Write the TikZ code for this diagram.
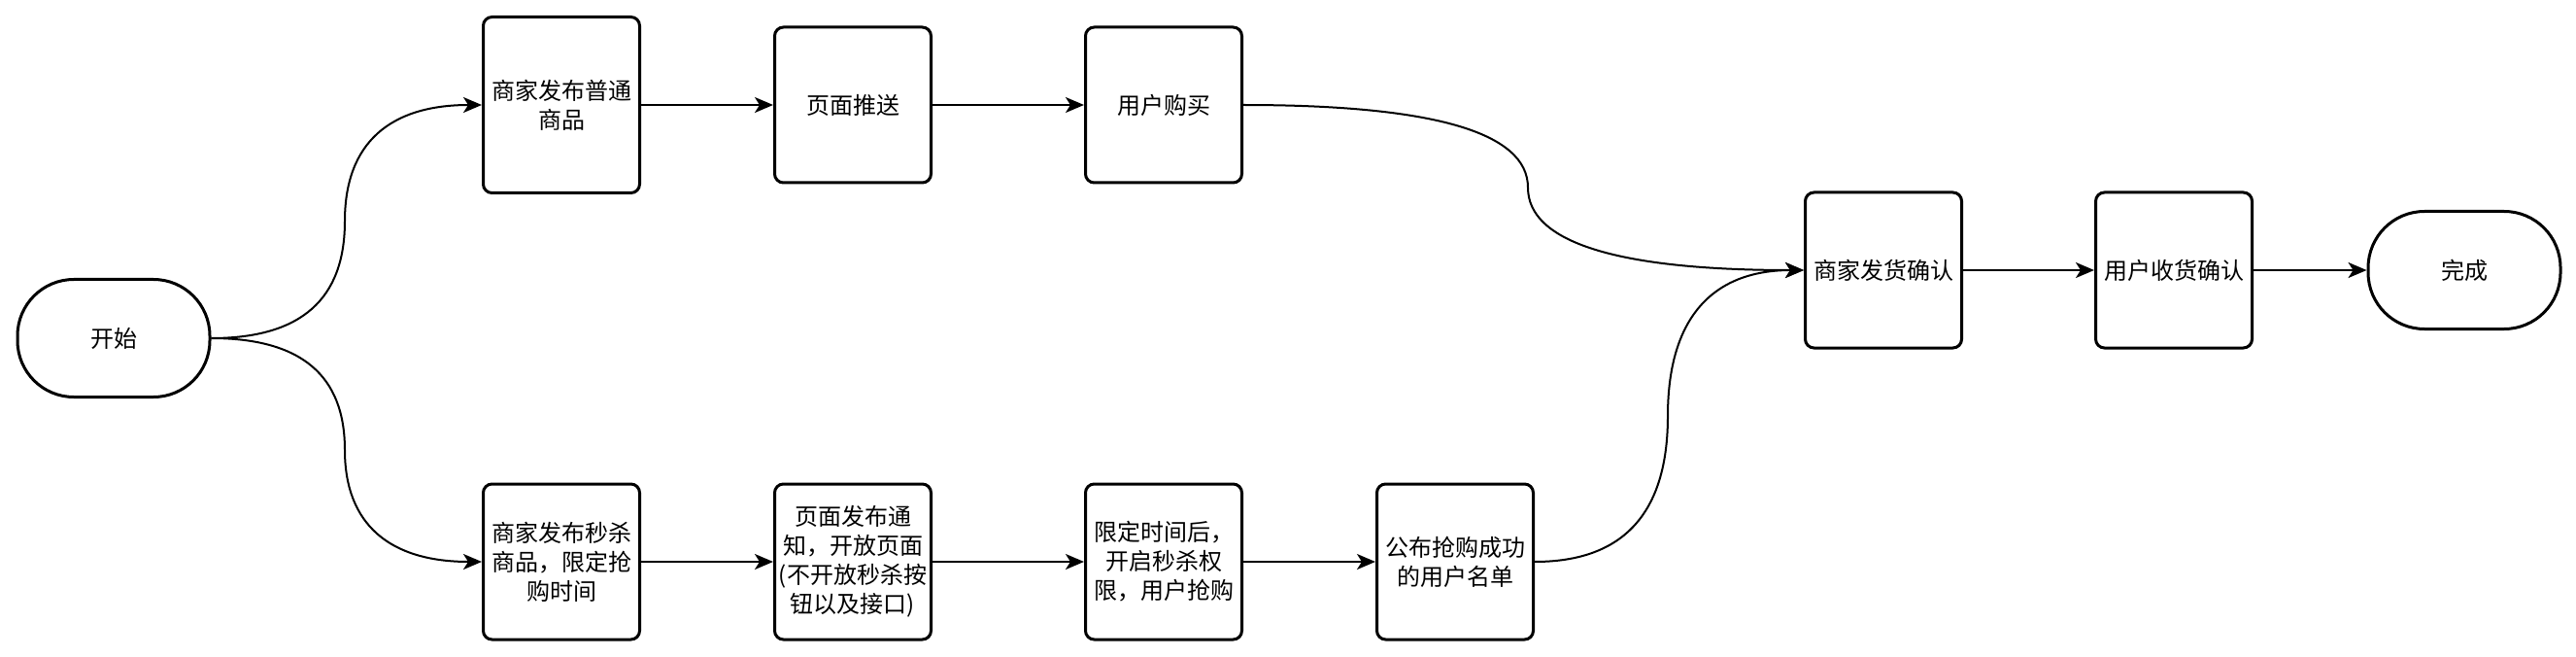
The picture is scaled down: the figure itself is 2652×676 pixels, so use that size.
\documentclass[tikz,border=0pt]{standalone}
\usepackage{fontspec}
\setmainfont{Noto Sans CJK SC}
\usetikzlibrary{arrows.meta}
\usetikzlibrary{calc}
\tikzset{every picture/.style={x=1pt,y=-1pt,line width=2pt}}
\tikzset{box/.style={draw,rectangle,rounded corners=9pt,line width=3pt,minimum width=161pt,minimum height=160pt,inner sep=0pt,align=center,font=\fontsize{24}{30}\selectfont},
term/.style={box,minimum width=198pt,minimum height=121pt,rounded corners=58pt},
flow/.style={-{Stealth[length=19pt,width=16pt,inset=5pt]},line width=2pt}}
\begin{document}
\begin{tikzpicture}
\useasboundingbox (0,0) rectangle (2652,676);

\node (start) at (117,348) [term] {开始};

% normal goods
\node (n1) at (578,108) [box,minimum height=181pt] {商家发布普通\\商品};
\node (n2) at (878,108) [box] {页面推送};
\node (n3) at (1198,108) [box] {用户购买};

% flash sale
\node (k1) at (578,578) [box] {商家发布秒杀\\商品，限定抢\\购时间};
\node (k2) at (878,578) [box] {页面发布通\\知，开放页面\\(不开放秒杀按\\钮以及接口)};
\node (k3) at (1198,578) [box] {限定时间后，\\开启秒杀权\\限，用户抢购};
\node (k4) at (1498,578) [box] {公布抢购成功\\的用户名单};

\node (d1) at (1939,278) [box] {商家发货确认};
\node (d2) at (2238,278) [box] {用户收货确认};
\node (done) at (2537,278) [term] {完成};

\coordinate (up) at (355,227.5);
\coordinate (dn) at (355,463);
\coordinate (j1) at (1573,193);
\coordinate (j2) at (1717,428);

\draw [flow] (start.east) .. controls +(92.7,0) and +(0,80.3) .. (up) .. controls +(0,-80.3) and +(-94.7,0) .. (n1.west);
\draw [flow] (start.east) .. controls +(92.7,0) and +(0,-76.7) .. (dn) .. controls +(0,76.7) and +(-94.7,0) .. (k1.west);

\draw [flow] (n1) -- (n2);
\draw [flow] (n2) -- (n3);
\draw [flow] (k1) -- (k2);
\draw [flow] (k2) -- (k3);
\draw [flow] (k3) -- (k4);

\draw [flow] (n3.east) .. controls +(196,0) and +(0,-56.7) .. (j1) .. controls +(0,56.7) and +(-190.7,0) .. (d1.west);
\draw [flow] (k4.east) .. controls +(91.3,0) and +(0,100) .. (j2) .. controls +(0,-100) and +(-94.7,0) .. (d1.west);

\draw [flow] (d1) -- (d2);
\draw [flow] (d2) -- (done);

\end{tikzpicture}
\end{document}
